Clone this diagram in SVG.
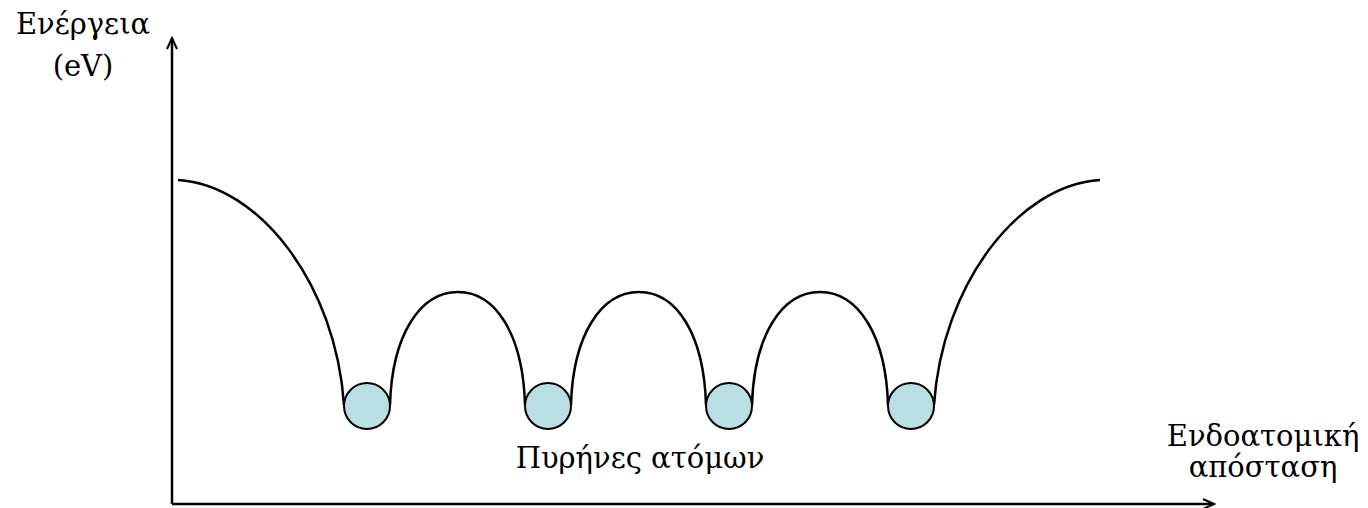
<svg xmlns="http://www.w3.org/2000/svg" width="1368" height="508" viewBox="0 0 1368 508">
<style>
.curve{fill:none;stroke:#000;stroke-width:2.5}
.nuc{fill:#b9dfe3;stroke:#000;stroke-width:2}
.axis{stroke:#000;stroke-width:2.5;fill:none}
.t{font-family:"DejaVu Serif","Liberation Serif",serif;font-size:29px;fill:#000;text-anchor:middle}
</style>
<defs>
<marker id="arr" markerWidth="14" markerHeight="12" refX="12" refY="6" orient="auto" markerUnits="userSpaceOnUse">
<polyline points="1,1 12,6 1,11" fill="none" stroke="#000" stroke-width="2"/>
</marker>
</defs>
<g id="connectors">
<line class="axis" x1="172" y1="504" x2="172" y2="38" marker-end="url(#arr)"/>
<line class="axis" x1="172" y1="504" x2="1214" y2="504" marker-end="url(#arr)"/>
<path id="energy-curve" class="curve" d="M178,180 C260,185 336,285 344,405 M390,405 C392,335 420,292 458,292 C496,292 523,335 525,405 M571,405 C573,335 601,292 639,292 C677,292 704,335 706,405 M752,405 C754,335 782,292 820,292 C858,292 886,335 888,405 M934,405 C942,285 1018,185 1100,180"/>
</g>
<g id="nucleus1"><circle class="nuc" cx="367" cy="406" r="23"/></g>
<g id="nucleus2"><circle class="nuc" cx="548" cy="406" r="23"/></g>
<g id="nucleus3"><circle class="nuc" cx="729" cy="406" r="23"/></g>
<g id="nucleus4"><circle class="nuc" cx="911" cy="406" r="23"/></g>
<g id="y-label">
<text class="t" x="83" y="34">Ενέργεια</text>
<text class="t" x="83" y="76">(eV)</text>
</g>
<g id="x-label">
<text class="t" x="1263" y="446">Ενδοατομική</text>
<text class="t" x="1263" y="477">απόσταση</text>
</g>
<g id="nuclei-label">
<text class="t" x="640" y="468">Πυρήνες ατόμων</text>
</g>
</svg>
